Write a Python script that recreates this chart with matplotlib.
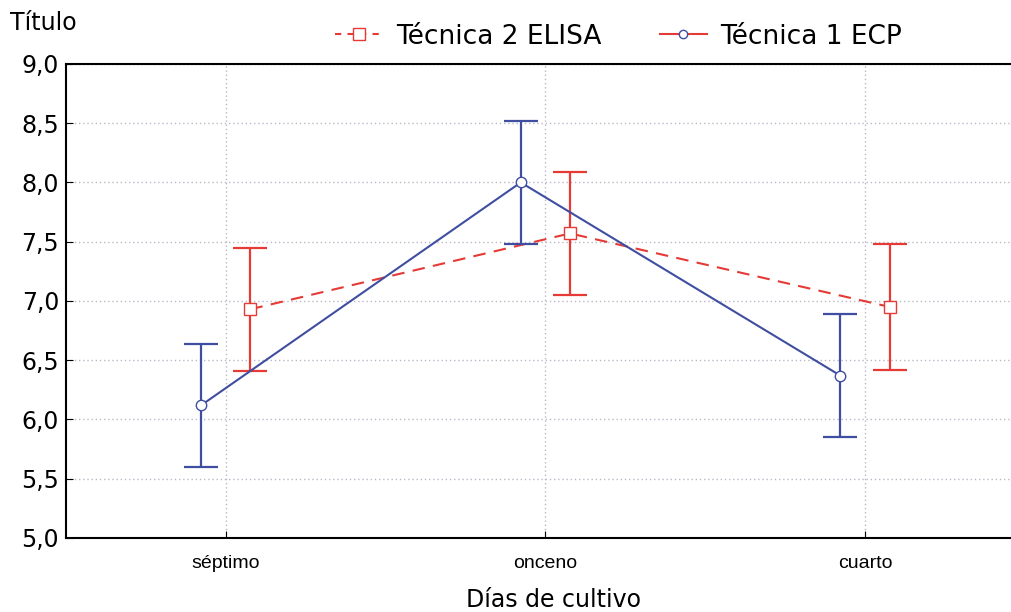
import matplotlib.pyplot as plt
from matplotlib.lines import Line2D
from matplotlib.ticker import FuncFormatter

# data
dias = ["séptimo", "onceno", "cuarto"]
ecp_media = [6.12, 8.00, 6.37]
ecp_err = [0.52, 0.52, 0.52]
elisa_media = [6.93, 7.57, 6.95]
elisa_err = [0.52, 0.52, 0.53]

azul = "#3f4ea0"
rojo = "#e53a35"

fig = plt.figure(figsize=(10.11, 6.12), dpi=100)
ax = fig.add_axes([0.0653, 0.121, 0.9347, 0.7745])

x = list(range(len(dias)))
off = 0.077
x_ecp = [i - off for i in x]
x_elisa = [i + off for i in x]

ax.errorbar(x_elisa, elisa_media, yerr=elisa_err, color=rojo, linestyle="--",
            dashes=(6, 4), linewidth=1.5, marker="s", markersize=8,
            markerfacecolor="white", markeredgecolor=rojo, capsize=12,
            elinewidth=1.6, capthick=1.6, zorder=3)
ax.errorbar(x_ecp, ecp_media, yerr=ecp_err, color=azul, linestyle="-",
            linewidth=1.5, marker="o", markersize=7.5,
            markerfacecolor="white", markeredgecolor=azul, capsize=12,
            elinewidth=1.6, capthick=1.6, zorder=4)

ax.set_xlim(-0.5, 2.457)
ax.set_ylim(5.0, 9.0)
ax.set_yticks([5.0, 5.5, 6.0, 6.5, 7.0, 7.5, 8.0, 8.5, 9.0])
ax.yaxis.set_major_formatter(FuncFormatter(lambda v, p: f"{v:.1f}".replace(".", ",")))
ax.set_xticks(x)
ax.set_xticklabels(dias, fontsize=14, family="Liberation Sans")
ax.tick_params(axis="y", direction="in", length=5, labelsize=17, pad=5)
ax.tick_params(axis="x", direction="in", length=5, pad=12)
ax.grid(True, color="#b8b8c8", linestyle=(0, (1, 2)), linewidth=1)
ax.set_axisbelow(True)

ax.spines["right"].set_visible(False)
for s in ["left", "bottom", "top"]:
    ax.spines[s].set_linewidth(1.5)

ax.set_xlabel("Días de cultivo", fontsize=17)
ax.xaxis.set_label_coords(0.516, -0.105)
fig.text(0.01, 0.962, "Título", fontsize=17, va="center", ha="left")

handles = [
    Line2D([0], [0], color=rojo, linestyle="--", dashes=(3, 3), linewidth=1.5,
           marker="s", markersize=9, markerfacecolor="white", markeredgecolor=rojo),
    Line2D([0], [0], color=rojo, linestyle="-", linewidth=1.5,
           marker="o", markersize=6, markerfacecolor="white", markeredgecolor=azul),
]
fig.legend(handles, ["Técnica 2 ELISA", "Técnica 1 ECP"], loc="center",
           bbox_to_anchor=(0.612, 0.94), ncol=2, frameon=False, fontsize=19,
           handlelength=1.8, handletextpad=0.5, columnspacing=2.2)

fig.savefig("out.png", dpi=100)
plt.close(fig)
